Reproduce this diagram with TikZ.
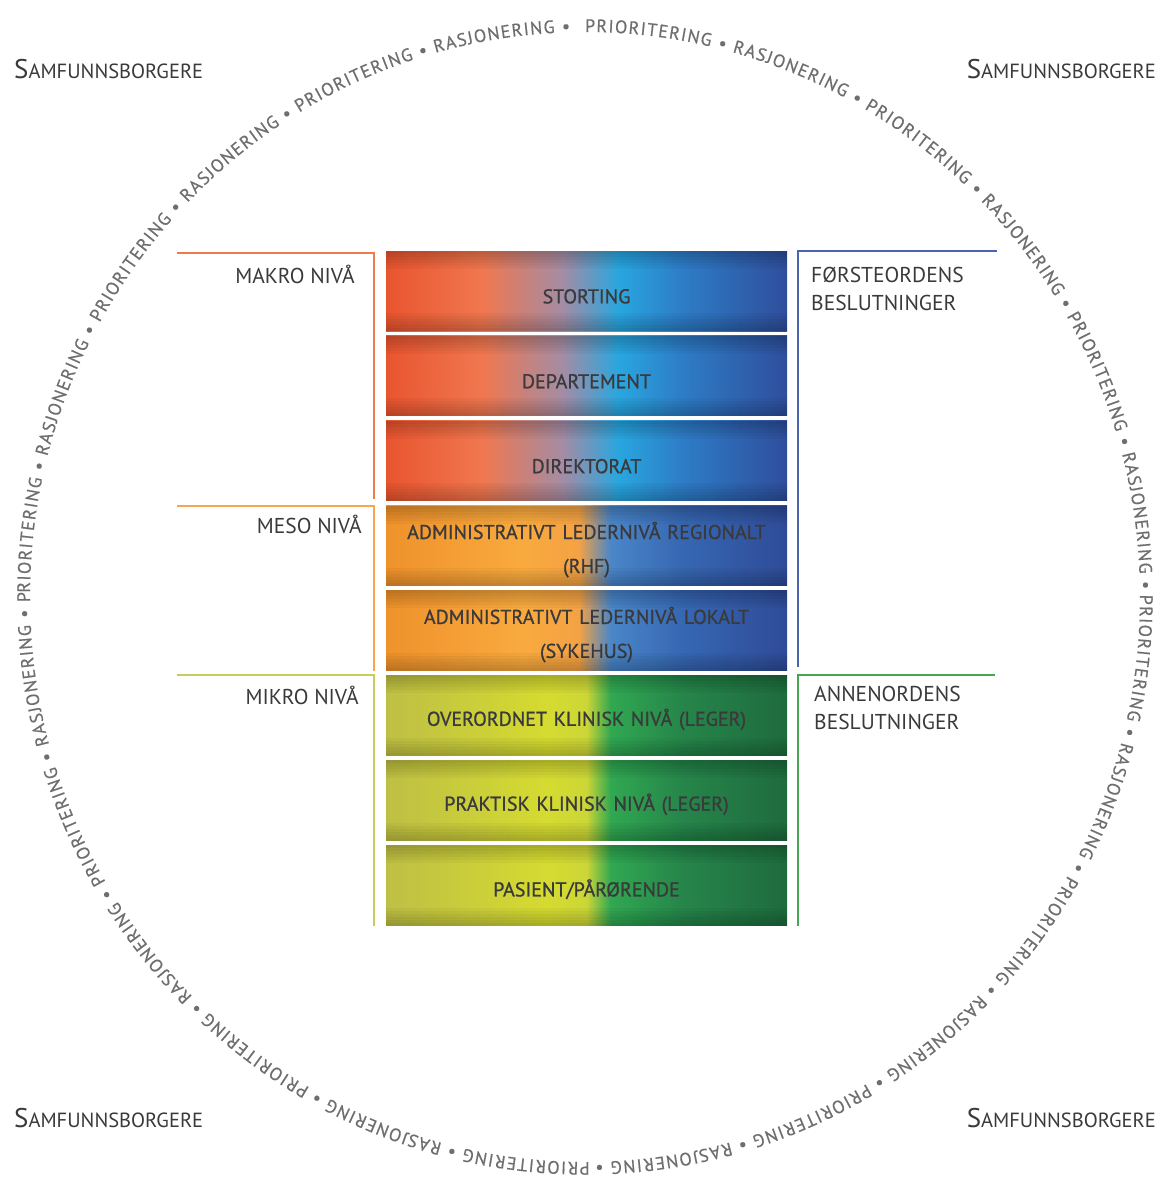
\documentclass[tikz,border=0pt]{standalone}
\usepackage{fontspec}
\setmainfont{PT Sans}
\newfontfamily\halvfet[FakeBold=0.9]{PT Sans}
\newfontfamily\ringskrift[FakeBold=0.5]{PT Sans}
\usepackage{tikz}
\usetikzlibrary{positioning,decorations.text}

\definecolor{tekst}{HTML}{3A3A3C}
\definecolor{ringtekst}{HTML}{6E6E70}
\definecolor{makrolinje}{HTML}{F07A4C}
\definecolor{mesolinje}{HTML}{F8A552}
\definecolor{mikrolinje}{HTML}{C9CB5E}
\definecolor{forstelinje}{HTML}{4A64AE}
\definecolor{annenlinje}{HTML}{45A552}

% makro: rod-oransje over i blatt
\definecolor{mkA}{HTML}{E9552F}
\definecolor{mkB}{HTML}{F0774F}
\definecolor{mkC}{HTML}{A48CA4}
\definecolor{mkD}{HTML}{28A6DF}
\definecolor{mkE}{HTML}{2E7CC6}
\definecolor{mkF}{HTML}{2F4E9C}
% meso: oransje over i blatt
\definecolor{msA}{HTML}{EF922B}
\definecolor{msB}{HTML}{F9AA3E}
\definecolor{msC}{HTML}{F4A244}
\definecolor{msD}{HTML}{4A86C8}
\definecolor{msE}{HTML}{3667B2}
\definecolor{msF}{HTML}{2F4B98}
% mikro: gulgronn over i gronn
\definecolor{miA}{HTML}{BEBF45}
\definecolor{miB}{HTML}{D5DB30}
\definecolor{miC}{HTML}{CCD636}
\definecolor{miD}{HTML}{30A851}
\definecolor{miE}{HTML}{26854A}
\definecolor{miF}{HTML}{1F6B3E}

\pgfdeclarehorizontalshading{makrofarge}{100bp}{color(0bp)=(mkA); color(25bp)=(mkA); color(37bp)=(mkB); color(47bp)=(mkC); color(54bp)=(mkD); color(62bp)=(mkE); color(75bp)=(mkF); color(100bp)=(mkF)}
\pgfdeclarehorizontalshading{mesofarge}{100bp}{color(0bp)=(msA); color(25bp)=(msA); color(42bp)=(msB); color(49bp)=(msC); color(53bp)=(msD); color(62bp)=(msE); color(75bp)=(msF); color(100bp)=(msF)}
\pgfdeclarehorizontalshading{mikrofarge}{100bp}{color(0bp)=(miA); color(25bp)=(miA); color(45bp)=(miB); color(50bp)=(miC); color(53bp)=(miD); color(62bp)=(miE); color(75bp)=(miF); color(100bp)=(miF)}

\newcommand{\storS}{{\fontsize{27}{27}\selectfont S}}

\tikzset{
	every node/.style={
		text=tekst,
		inner sep=0pt
	},
	boks/.style={
		shape=rectangle,
		shade,
		minimum width=401pt,
		minimum height=80pt,
		text width=398pt,
		align=center,
		font=\halvfet\fontsize{20}{34}\selectfont,
		execute at begin node={\rule{0pt}{25pt}}
	},
	makro/.style={boks, shading=makrofarge},
	meso/.style={boks, shading=mesofarge},
	mikro/.style={boks, shading=mikrofarge},
	kant/.style={black, opacity=0.035},
	niva/.style={
		font=\fontsize{21.5}{28}\selectfont,
		anchor=base east
	},
	orden/.style={
		font=\fontsize{21.5}{28}\selectfont,
		align=left,
		anchor=north west
	},
	borger/.style={
		font=\fontsize{20.5}{20}\selectfont
	},
	klamme/.style={
		line width=2pt
	}
}

\begin{document}
\begin{tikzpicture}[x=1pt,y=1pt]
	\useasboundingbox (0,0) rectangle (1166,-1180);

	\node[makro]                             (storting)    at (586.5,-291) {STORTING};
	\node[makro, below=4.5pt of storting]    (departement) {DEPARTEMENT};
	\node[makro, below=4.5pt of departement] (direktorat)  {DIREKTORAT};
	\node[meso,  below=4.5pt of direktorat]  (regionalt)   {ADMINISTRATIVT LEDERNIVÅ REGIONALT\\(RHF)};
	\node[meso,  below=4.5pt of regionalt]   (lokalt)      {ADMINISTRATIVT LEDERNIVÅ LOKALT\\(SYKEHUS)};
	\node[mikro, below=4.5pt of lokalt]      (overordnet)  {OVERORDNET KLINISK NIVÅ (LEGER)};
	\node[mikro, below=4.5pt of overordnet]  (praktisk)    {PRAKTISK KLINISK NIVÅ (LEGER)};
	\node[mikro, below=4.5pt of praktisk]    (pasient)     {PASIENT/PÅRØRENDE};

	% morkere kant oppe og nede i hver boks
	\foreach \b in {storting,departement,direktorat,regionalt,lokalt,overordnet,praktisk,pasient}
		\foreach \d in {3,6,...,18} {
			\fill[kant] (\b.north west) rectangle ([yshift=-\d pt]\b.north east);
			\fill[kant] (\b.south west) rectangle ([yshift=\d pt]\b.south east);
		}

	% klammer til venstre og hoyre
	\draw[klamme, makrolinje] ([xshift=-209pt,yshift=-2pt]storting.north west) -| ([xshift=-12pt,yshift=2pt]direktorat.south west);
	\draw[klamme, mesolinje]  ([xshift=-209pt]regionalt.north west) -| ([xshift=-12pt]lokalt.south west);
	\draw[klamme, mikrolinje] ([xshift=-209pt]overordnet.north west) -| ([xshift=-12pt]pasient.south west);
	\draw[klamme, forstelinje] ([xshift=210pt]storting.north east) -| ([xshift=11pt,yshift=4pt]lokalt.south east);
	\draw[klamme, annenlinje]  ([xshift=208pt]overordnet.north east) -| ([xshift=11pt]pasient.south east);

	\node[niva] (makrotekst) at (355,-283) {MAKRO NIVÅ};
	\node[niva] (mesotekst)  at (362,-533) {MESO NIVÅ};
	\node[niva] (mikrotekst) at (359,-704) {MIKRO NIVÅ};
	\node[orden] (forste) at (811,-267) {FØRSTEORDENS\\BESLUTNINGER};
	\node[orden] (annen)  at (814,-686) {ANNENORDENS\\BESLUTNINGER};

	\node[borger, anchor=base west] (borgerNV) at (14,-79)    {\storS AMFUNNSBORGERE};
	\node[borger, anchor=base east] (borgerNO) at (1156,-79)  {\storS AMFUNNSBORGERE};
	\node[borger, anchor=base west] (borgerSV) at (14,-1127)  {\storS AMFUNNSBORGERE};
	\node[borger, anchor=base east] (borgerSO) at (1156,-1127) {\storS AMFUNNSBORGERE};

	% ringen med tekst, med klokka fra toppen
	\path[decorate, decoration={text along path, text align={fit to path}, text color=ringtekst,
		text={|\ringskrift\fontsize{18}{18}\selectfont|PRIORITERING • RASJONERING • PRIORITERING • RASJONERING • PRIORITERING • RASJONERING • PRIORITERING • RASJONERING • PRIORITERING • RASJONERING • PRIORITERING • RASJONERING • PRIORITERING • RASJONERING • PRIORITERING • RASJONERING • PRIORITERING • RASJONERING • PRIORITERING • RASJONERING • PRIORITERING • RASJONERING • PRIORITERING • RASJONERING •}}]
		(585,-32) arc[start angle=90, end angle=-268.3, x radius=555, y radius=565];
\end{tikzpicture}
\end{document}
